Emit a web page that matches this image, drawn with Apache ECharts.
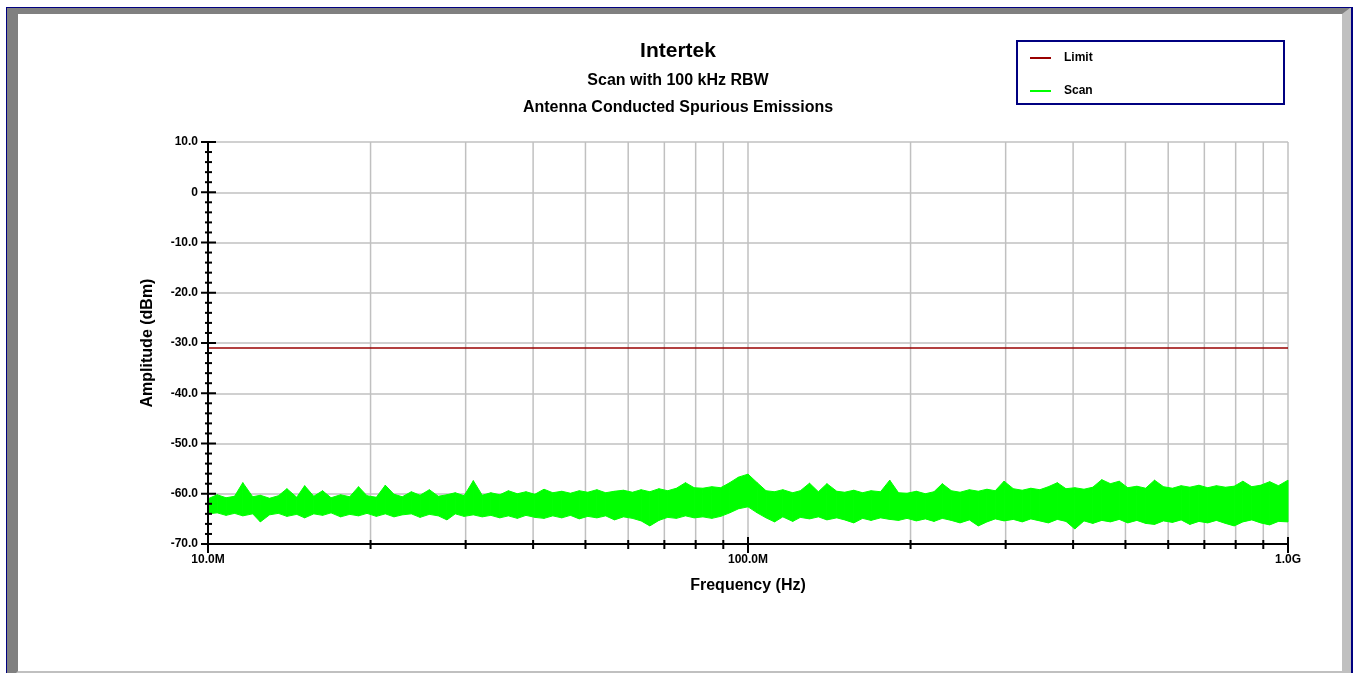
<!DOCTYPE html>
<html>
<head>
<meta charset="utf-8">
<script src="https://cdn.jsdelivr.net/npm/echarts@6/dist/echarts.min.js"></script>
<style>
html,body{margin:0;padding:0;background:#fff;}
#chart{width:1356px;height:673px;}
</style>
</head>
<body>
<div id="chart"></div>
<script>
// ---------- DATA ----------
// Frequencies of the envelope samples, MHz
const freqMHz = [
  10, 10.4, 10.8, 11.2, 11.6, 12.1, 12.5, 13, 13.5, 14,
  14.6, 15.1, 15.7, 16.3, 16.9, 17.6, 18.3, 19, 19.7, 20.5,
  21.3, 22.1, 22.9, 23.8, 24.7, 25.7, 26.7, 27.7, 28.7, 29.8,
  31, 32.2, 33.4, 34.7, 36, 37.4, 38.8, 40.3, 41.9, 43.5,
  45.2, 46.9, 48.7, 50.5, 52.5, 54.5, 56.6, 58.8, 61.1, 63.4,
  65.8, 68.4, 71, 73.7, 76.6, 79.5, 82.5, 85.7, 89, 92.5,
  96, 100,
  104, 108, 112, 116, 121, 125, 130, 135, 140, 146,
  151, 157, 163, 169, 176, 183, 190, 197, 205, 213,
  221, 229, 238, 247, 257, 267, 277, 287, 298, 310,
  322, 334, 347, 360, 374, 388, 403, 419, 435, 452,
  469, 487, 505, 525, 545, 566, 588, 611, 634, 658,
  684, 710, 737, 766, 795, 825, 857, 890, 925, 960,
  1000
];
// Upper envelope of the scan trace, dBm
const scanHigh = [
  -61.0, -60.2, -60.8, -60.5, -57.8, -60.6, -60.3, -60.9, -60.4, -59.0,
  -60.7, -58.4, -60.5, -59.4, -60.8, -60.2, -60.6, -58.6, -60.4, -60.7,
  -58.3, -60.1, -60.6, -59.6, -60.3, -59.2, -60.5, -60.2, -59.8, -60.4,
  -57.4, -60.3, -59.8, -60.2, -59.4, -60.0, -59.6, -60.1, -59.1, -59.8,
  -59.5, -59.9, -59.4, -59.7, -59.2, -59.8, -59.5, -59.3, -59.7, -59.2,
  -59.6, -59.0, -59.4, -58.9, -57.8, -58.8, -58.9, -58.6, -58.8, -57.8,
  -56.7, -56.1,
  -57.8, -59.4, -59.6, -59.2, -59.8, -59.4, -57.9, -59.6, -58.0, -59.5,
  -59.7, -59.3, -59.8, -59.4, -59.6, -57.3, -59.8, -59.9, -59.5, -60.0,
  -59.6, -58.0, -59.4, -59.7, -59.2, -59.5, -59.1, -59.4, -57.5, -59.0,
  -59.3, -58.9, -59.2, -58.6, -57.8, -59.0, -58.8, -59.1, -58.7, -57.2,
  -58.0, -57.5, -58.8, -58.5, -58.9, -57.3, -58.6, -58.9, -58.4, -58.7,
  -58.3, -58.8, -58.4, -58.7, -58.5, -57.5, -58.6, -58.3, -57.6, -58.4,
  -57.3
];
// Lower envelope of the scan trace, dBm
const scanLow = [
  -64.0, -63.8, -64.3, -63.9, -64.4, -64.0, -65.6, -64.2, -63.9, -64.5,
  -64.1, -64.8, -64.0, -64.3, -63.8, -64.6, -64.1, -64.4, -63.9, -64.5,
  -64.0, -64.6, -64.2, -64.0, -64.7, -64.1, -64.4, -65.2, -64.0, -64.5,
  -64.2, -64.6, -64.3, -64.8, -64.4, -64.9, -64.3, -64.7, -64.9, -64.4,
  -64.8, -64.3, -65.0, -64.5, -64.8, -64.4, -65.2, -64.6, -64.9, -65.4,
  -66.4, -65.3, -64.7, -64.9, -64.4, -64.8, -64.6, -64.9, -64.5, -63.8,
  -63.0, -62.6,
  -63.8, -64.8, -65.6, -64.6, -65.5, -64.7, -65.0, -64.6, -65.2, -64.8,
  -65.2, -65.8, -64.9, -65.3, -64.8, -65.1, -65.3, -64.9, -65.4, -65.0,
  -65.5, -64.9, -65.3, -65.8, -65.2, -66.4, -65.6, -65.0, -65.4, -65.1,
  -65.6, -65.0, -65.4, -65.8, -65.1, -65.5, -67.0, -65.4, -65.9, -65.3,
  -65.6, -65.1, -65.8, -65.3, -65.9, -66.1, -65.4, -65.7, -65.2, -66.1,
  -65.5, -65.8, -65.3, -65.9, -66.4, -65.6, -65.2, -65.8, -66.2, -65.5,
  -65.6
];
// Limit line, dBm
const limitLevel = -31.0;
const limitFreqMHz = [10, 1000];

// Axis ticks and labels
const xMajorTicksMHz = [10, 100, 1000];
const xTickLabels = ['10.0M', '100.0M', '1.0G'];
const xMinorTicksMHz = [20, 30, 40, 50, 60, 70, 80, 90, 200, 300, 400, 500, 600, 700, 800, 900];
const yMajorTicks = [-70, -60, -50, -40, -30, -20, -10, 0, 10];
const yTickLabels = ['-70.0', '-60.0', '-50.0', '-40.0', '-30.0', '-20.0', '-10.0', '0', '10.0'];
const yMinorStep = 2;

// ---------- BUILD ----------
const MHZ = 1e6;
const X_MIN = 10 * MHZ, X_MAX = 1000 * MHZ, Y_MIN = -70, Y_MAX = 10;
const scanData = freqMHz.map((f, i) => [f * MHZ, scanHigh[i], scanLow[i]]);
const limitData = limitFreqMHz.map(f => [f * MHZ, limitLevel]);

const xTickData = [];
xMajorTicksMHz.forEach(f => xTickData.push([f * MHZ, Y_MIN, 7, 9]));
xMinorTicksMHz.forEach(f => xTickData.push([f * MHZ, Y_MIN, 4, 5]));
const yTickData = [];
for (let v = Y_MIN; v <= Y_MAX; v += yMinorStep) {
  const major = yMajorTicks.indexOf(v) >= 0;
  yTickData.push([X_MIN, v, major ? 7 : 3, major ? 8 : 4]);
}
const minorGridData = xMinorTicksMHz.map(f => [f * MHZ, Y_MIN]);

const FONT = '"Liberation Sans", Arial, sans-serif';
const chart = echarts.init(document.getElementById('chart'), null, {renderer: 'canvas'});

function xLabel(v) {
  for (let i = 0; i < xMajorTicksMHz.length; i++) {
    if (Math.abs(Math.log10(v) - Math.log10(xMajorTicksMHz[i] * MHZ)) < 1e-6) return xTickLabels[i];
  }
  return '';
}
function yLabel(v) {
  const i = yMajorTicks.indexOf(Math.round(v));
  return i >= 0 ? yTickLabels[i] : '';
}

chart.setOption({
  animation: false,
  backgroundColor: '#ffffff',
  graphic: {
    elements: [
      {type: 'rect', z: -20, silent: true, shape: {x: 6, y: 7, width: 1347, height: 680}, style: {fill: '#000080'}},
      {type: 'rect', z: -19, silent: true, shape: {x: 7, y: 8, width: 1344, height: 680}, style: {fill: '#c0c0c0'}},
      {type: 'polygon', z: -18, silent: true,
        shape: {points: [[7, 8], [1350, 8], [1342, 14], [18, 14], [18, 671], [7, 682]]},
        style: {fill: '#808080'}},
      {type: 'rect', z: -17, silent: true, shape: {x: 18, y: 14, width: 1324, height: 657}, style: {fill: '#ffffff'}},
      {type: 'rect', z: -16, silent: true, shape: {x: 1017, y: 41, width: 267, height: 63},
        style: {fill: 'none', stroke: '#000080', lineWidth: 2}}
    ]
  },
  title: [
    {text: 'Intertek', left: 'center', top: 36,
      textStyle: {fontFamily: FONT, fontWeight: 'bold', fontSize: 21, color: '#000'}},
    {text: 'Scan with 100 kHz RBW', left: 'center', top: 68,
      textStyle: {fontFamily: FONT, fontWeight: 'bold', fontSize: 16, color: '#000'}},
    {text: 'Antenna Conducted Spurious Emissions', left: 'center', top: 95,
      textStyle: {fontFamily: FONT, fontWeight: 'bold', fontSize: 16, color: '#000'}}
  ],
  legend: {
    data: [{name: 'Limit', icon: 'rect'}, {name: 'Scan', icon: 'rect'}],
    orient: 'vertical',
    left: 1030,
    top: 52,
    padding: 0,
    itemWidth: 21,
    itemHeight: 2,
    itemGap: 21,
    selectedMode: false,
    textStyle: {fontFamily: FONT, fontWeight: 'bold', fontSize: 12, color: '#000', padding: [0, 0, 0, 8]}
  },
  grid: {left: 208, right: 68, top: 142, bottom: 129, containLabel: false},
  xAxis: {
    type: 'log',
    logBase: 10,
    min: X_MIN,
    max: X_MAX,
    splitNumber: 2,
    name: 'Frequency (Hz)',
    nameLocation: 'middle',
    nameGap: 34,
    nameTextStyle: {fontFamily: FONT, fontWeight: 'bold', fontSize: 16, color: '#000'},
    axisLine: {show: false},
    axisTick: {show: false},
    axisLabel: {margin: 10, fontFamily: FONT, fontWeight: 'bold', fontSize: 12, color: '#000',
      formatter: xLabel, showMinLabel: true, showMaxLabel: true},
    splitLine: {show: true, lineStyle: {color: '#c0c0c0', width: 1.5}}
  },
  yAxis: {
    type: 'value',
    min: Y_MIN,
    max: Y_MAX,
    interval: 10,
    name: 'Amplitude (dBm)',
    nameLocation: 'middle',
    nameGap: 52,
    nameRotate: 90,
    nameTextStyle: {fontFamily: FONT, fontWeight: 'bold', fontSize: 16, color: '#000'},
    axisLine: {show: false},
    axisTick: {show: false},
    axisLabel: {margin: 10, fontFamily: FONT, fontWeight: 'bold', fontSize: 12, color: '#000', formatter: yLabel},
    splitLine: {show: true, lineStyle: {color: '#c0c0c0', width: 1.5}}
  },
  series: [
    {
      name: 'minorGrid', type: 'custom', silent: true, z: 1, data: minorGridData,
      renderItem: function (params, api) {
        const f = api.value(0);
        const p1 = api.coord([f, Y_MIN]);
        const p2 = api.coord([f, Y_MAX]);
        return {type: 'line', shape: {x1: p1[0], y1: p1[1], x2: p2[0], y2: p2[1]},
          style: {stroke: '#c0c0c0', lineWidth: 1.5}};
      }
    },
    {
      name: 'Limit', type: 'line', data: limitData, symbol: 'none', z: 3,
      lineStyle: {color: '#990000', width: 1.5}, itemStyle: {color: '#990000'}
    },
    {
      name: 'Scan', type: 'custom', z: 4, silent: true, data: scanData,
      itemStyle: {color: '#00ff00'},
      encode: {x: 0, y: [1, 2]},
      renderItem: function (params, api) {
        const i = params.dataIndexInside;
        if (i >= params.dataInsideLength - 1) return null;
        const a = api.coord([api.value(0, i), api.value(1, i)]);
        const b = api.coord([api.value(0, i + 1), api.value(1, i + 1)]);
        const c = api.coord([api.value(0, i + 1), api.value(2, i + 1)]);
        const d = api.coord([api.value(0, i), api.value(2, i)]);
        return {type: 'polygon', shape: {points: [a, b, c, d]},
          style: {fill: '#00ff00', stroke: '#00ff00', lineWidth: 1}};
      }
    },
    {
      name: 'xAxisLine', type: 'line', data: [[X_MIN, Y_MIN], [X_MAX, Y_MIN]], symbol: 'none', clip: false, z: 10,
      silent: true, lineStyle: {color: '#000', width: 2}
    },
    {
      name: 'yAxisLine', type: 'line', data: [[X_MIN, Y_MIN], [X_MIN, Y_MAX]], symbol: 'none', clip: false, z: 10,
      silent: true, lineStyle: {color: '#000', width: 2}
    },
    {
      name: 'xTicks', type: 'custom', silent: true, z: 11, clip: false, data: xTickData,
      renderItem: function (params, api) {
        const p = api.coord([api.value(0), api.value(1)]);
        return {type: 'line', shape: {x1: p[0], y1: p[1] - api.value(2), x2: p[0], y2: p[1] + api.value(3)},
          style: {stroke: '#000', lineWidth: 2}};
      }
    },
    {
      name: 'yTicks', type: 'custom', silent: true, z: 11, clip: false, data: yTickData,
      renderItem: function (params, api) {
        const p = api.coord([api.value(0), api.value(1)]);
        return {type: 'line', shape: {x1: p[0] - api.value(2), y1: p[1], x2: p[0] + api.value(3), y2: p[1]},
          style: {stroke: '#000', lineWidth: 2}};
      }
    }
  ]
});
</script>
</body>
</html>
